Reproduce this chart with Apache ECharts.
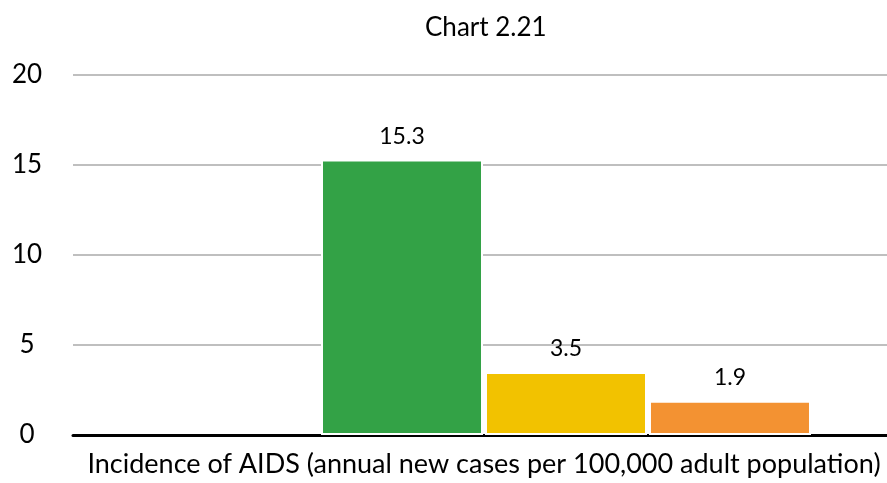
<!DOCTYPE html>
<html>
<head>
<meta charset="utf-8">
<script src="https://cdn.jsdelivr.net/npm/echarts@6/dist/echarts.min.js"></script>
<style>
    html, body { margin: 0; padding: 0; background: #fff; overflow: hidden; }
    #chart { width: 895px; height: 483px; }
</style>
</head>
<body>
<div id="chart"></div>
<script>
    // data
    var categories = ['Incidence of AIDS (annual new cases per 100,000 adult population)'];
    var seriesNames = ['', 'A', 'B', 'C'];
    var seriesValues = [null, 15.3, 3.5, 1.9];
    var seriesColors = ['#ffffff', '#33a246', '#f2c200', '#f39232'];
    var yTicks = [0, 5, 10, 15, 20];

    var chart = echarts.init(document.getElementById('chart'));

    var series = seriesNames.map(function (name, i) {
        return {
            name: name,
            type: 'bar',
            data: [seriesValues[i]],
            barWidth: 162,
            barGap: '1.23%',
            itemStyle: {
                color: seriesColors[i],
                borderColor: '#fff',
                borderWidth: 2
            },
            label: {
                show: seriesValues[i] != null,
                position: 'top',
                distance: 12,
                color: '#000',
                fontSize: 23,
                fontFamily: 'Lato'
            }
        };
    });

    var option = {
        animation: false,
        title: {
            text: 'Chart 2.21',
            left: 420,
            top: 10,
            textStyle: { color: '#000', fontSize: 26, fontWeight: 'normal', fontFamily: 'Lato' }
        },
        grid: { left: 73, right: 0, top: 75, bottom: 48 },
        xAxis: {
            type: 'category',
            data: categories,
            axisTick: { show: false },
            axisLine: { lineStyle: { color: '#000', width: 3 } },
            axisLabel: { color: '#000', fontSize: 27, fontFamily: 'Lato', margin: 16 }
        },
        yAxis: {
            type: 'value',
            min: yTicks[0],
            max: yTicks[yTicks.length - 1],
            interval: 5,
            axisLine: { show: false },
            axisTick: { show: false },
            splitLine: { lineStyle: { color: '#bfbfbf', width: 2 } },
            axisLabel: { color: '#000', fontSize: 26, fontFamily: 'Lato', align: 'center', margin: 46 }
        },
        series: series
    };
    chart.setOption(option);
</script>
</body>
</html>
